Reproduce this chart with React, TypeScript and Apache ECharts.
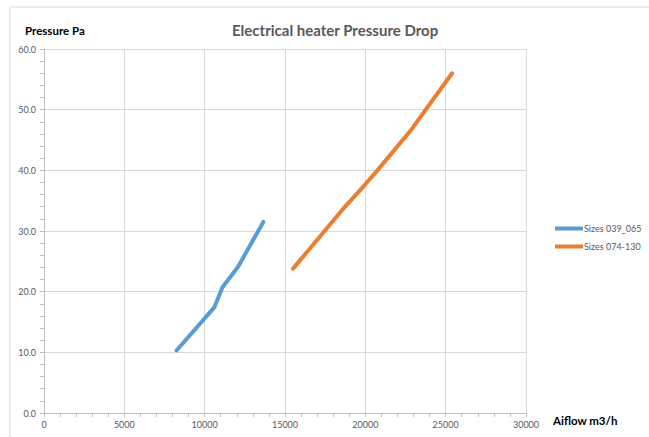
import React, { useEffect, useRef } from "react";
import * as echarts from "echarts";

const seriesNames = ["Sizes 039_065", "Sizes 074-130"];
const blueAirflow = [8250, 10600, 11100, 12100, 13650];
const bluePressure = [10.3, 17.4, 20.7, 24.2, 31.5];
const orangeAirflow = [15500, 17400, 18600, 20000, 20750, 22860, 25400];
const orangePressure = [23.8, 29.8, 33.6, 37.7, 40.0, 46.7, 56.0];
const colors = ["#5b9bd5", "#ed7d31"];
const FONT = "Lato, 'Noto Sans', sans-serif";

export default function App() {
  const ref = useRef<HTMLDivElement>(null);
  useEffect(() => {
    if (!ref.current) return;
    const chart = echarts.init(ref.current, undefined, { renderer: "svg" });
    const pair = (xs: number[], ys: number[]) => xs.map((x, i) => [x, ys[i]]);
    chart.setOption({
      animation: false,
      backgroundColor: "#ffffff",
      textStyle: { fontFamily: FONT },
      title: {
        text: "Electrical heater Pressure Drop",
        left: 227,
        top: 17,
        textStyle: { fontSize: 15, fontWeight: "bold", color: "#595959", fontFamily: FONT },
      },
      graphic: [
        {
          type: "rect",
          shape: { x: 10, y: 7, width: 700, height: 500 },
          style: { fill: "none", stroke: "#d9d9d9", lineWidth: 1 },
          silent: true,
          z: -1,
        },
        {
          type: "text",
          left: 25,
          top: 24,
          style: { text: "Pressure Pa", font: `bold 11.5px ${FONT}`, fill: "#000000" },
        },
        {
          type: "text",
          left: 553,
          top: 414,
          style: { text: "Aiflow m3/h", font: `bold 11.5px ${FONT}`, fill: "#000000" },
        },
      ],
      legend: {
        orient: "vertical",
        left: 550,
        top: 219,
        itemWidth: 28,
        itemHeight: 4,
        itemGap: 9,
        icon: "rect",
        textStyle: { fontSize: 9, color: "#595959", padding: [0, 0, 0, -4] },
        data: seriesNames,
      },
      grid: { left: 44, right: 123, top: 49, bottom: 24 },
      xAxis: {
        type: "value",
        min: 0,
        max: 30000,
        interval: 5000,
        axisLine: { show: true, lineStyle: { color: "#bfbfbf" } },
        axisTick: { show: true, length: 4, lineStyle: { color: "#bfbfbf" } },
        minorTick: { show: true, splitNumber: 5, length: 4, lineStyle: { color: "#bfbfbf" } },
        axisLabel: { fontSize: 9, color: "#595959", margin: 7, formatter: (v: number) => String(v) },
        splitLine: { show: true, lineStyle: { color: "#d9d9d9" } },
      },
      yAxis: {
        type: "value",
        min: 0,
        max: 60,
        interval: 10,
        axisLine: { show: true, lineStyle: { color: "#bfbfbf" } },
        axisTick: { show: true, length: 4, lineStyle: { color: "#bfbfbf" } },
        minorTick: { show: true, splitNumber: 5, length: 4, lineStyle: { color: "#bfbfbf" } },
        axisLabel: { fontSize: 9, color: "#595959", margin: 8, formatter: (v: number) => v.toFixed(1) },
        splitLine: { show: true, lineStyle: { color: "#d9d9d9" } },
      },
      series: [
        {
          name: seriesNames[0],
          type: "line",
          data: pair(blueAirflow, bluePressure),
          symbol: "none",
          color: colors[0],
          lineStyle: { width: 4, color: colors[0], cap: "round", join: "round" },
        },
        {
          name: seriesNames[1],
          type: "line",
          data: pair(orangeAirflow, orangePressure),
          symbol: "none",
          color: colors[1],
          lineStyle: { width: 4, color: colors[1], cap: "round", join: "round" },
        },
      ],
    });
    return () => chart.dispose();
  }, []);
  return (
    <div
      ref={ref}
      style={{ position: "fixed", left: 0, top: 0, width: 649, height: 437 }}
    />
  );
}
